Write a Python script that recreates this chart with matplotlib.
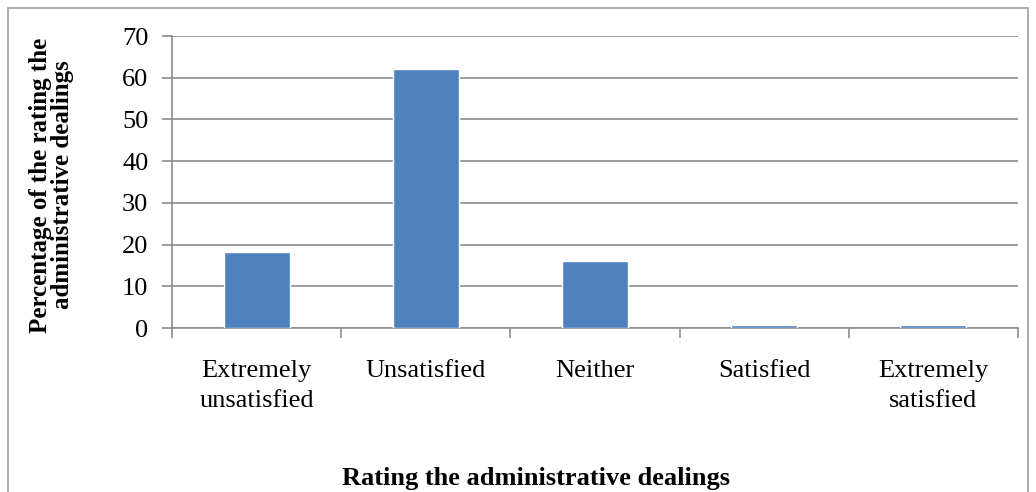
import matplotlib
matplotlib.use("Agg")
import matplotlib.pyplot as plt
from matplotlib.patches import Rectangle

categories = ["Extremely\nunsatisfied", "Unsatisfied", "Neither", "Satisfied", "Extremely\nsatisfied"]
percentages = [18.3, 62.1, 16.1, 0.7, 0.7]

plt.rcParams['font.family'] = ['Liberation Serif', 'DejaVu Serif']

fig = plt.figure(figsize=(10.36, 4.92), dpi=100)
ax = fig.add_axes([0.166, 0.3333, 0.8166, 0.5935])

# outer frame of the chart area (cut off at the bottom)
fig.patches.append(Rectangle((8 / 1036, -0.05), 1 - 16 / 1036, 1.05 - 8 / 492,
                             transform=fig.transFigure, fill=False,
                             edgecolor='#a0a0a0', linewidth=1.2))

x = list(range(len(categories)))
ax.bar(x, percentages, width=0.39, color='#4F81BD', edgecolor='white',
       linewidth=1.0, zorder=3)

ax.set_xlim(-0.5, len(categories) - 0.5)
ax.set_ylim(0, 70)
ax.set_yticks(range(0, 71, 10))
ax.yaxis.grid(True, color='#8c8c8c', linewidth=1.2, zorder=0)

ax.set_xticks([i - 0.5 for i in range(len(categories) + 1)])
ax.set_xticklabels([])
ax.set_xticks(x, minor=True)
ax.set_xticklabels(categories, minor=True, fontsize=19, linespacing=1.45)
ax.tick_params(axis='x', which='minor', length=0, pad=23)
ax.tick_params(axis='x', which='major', length=7, color='#8c8c8c', width=1.2)
ax.tick_params(axis='y', length=7, color='#8c8c8c', width=1.2, labelsize=19, pad=10)

for side in ['top', 'right']:
    ax.spines[side].set_visible(False)
for side in ['left', 'bottom']:
    ax.spines[side].set_color('#8c8c8c')
    ax.spines[side].set_linewidth(1.2)

ax.set_ylabel("Percentage of the rating the\nadministrative dealings",
              fontsize=18, fontweight='bold', linespacing=0.95)
ax.yaxis.set_label_coords(-0.116, 0.49)
fig.text(536 / 1036, 0.028, "Rating the administrative dealings", ha='center',
         va='center', fontsize=19, fontweight='bold')

fig.savefig("out.png", dpi=100)
